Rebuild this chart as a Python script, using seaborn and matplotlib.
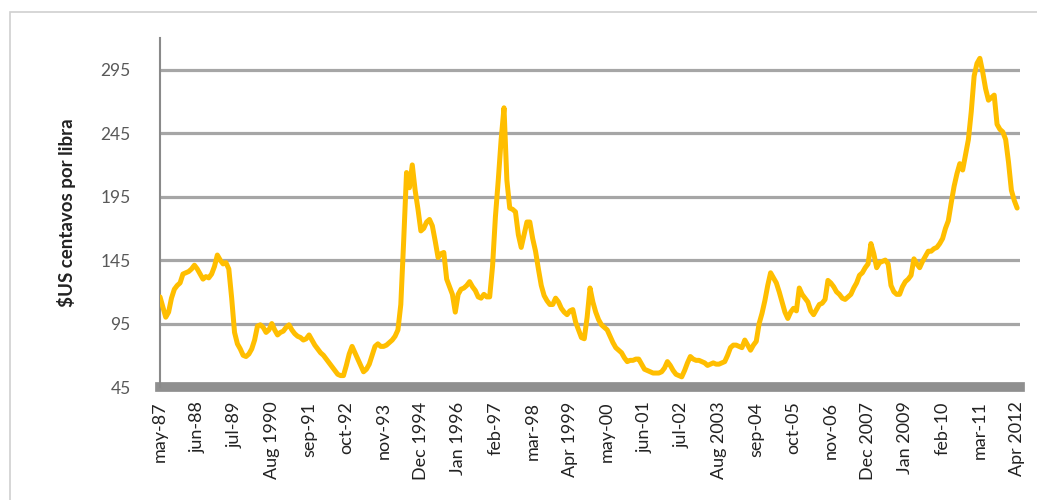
import numpy as np
import pandas as pd
import matplotlib
matplotlib.use("Agg")
import matplotlib.pyplot as plt
import seaborn as sns
from matplotlib.patches import Rectangle

# monthly price, may-87 .. Apr 2012 (US cents per pound)
price = [
    116, 108, 100, 104, 115, 122, 125, 127, 134, 135,
    136, 138, 141, 138, 134, 130, 132, 131, 134, 140,
    149, 145, 142, 143, 138, 115, 88, 79, 75, 70,
    69, 71, 75, 82, 93, 94, 92, 88, 90, 95,
    90, 86, 88, 89, 92, 94, 90, 87, 85, 84,
    82, 83, 86, 82, 78, 75, 72, 70, 67, 64,
    61, 58, 55, 54, 54, 62, 71, 77, 72, 67,
    62, 57, 59, 63, 70, 77, 79, 77, 77, 78,
    80, 82, 85, 90, 110, 160, 214, 202, 220, 200,
    185, 168, 170, 175, 177, 172, 160, 147, 150, 151,
    130, 124, 118, 104, 118, 122, 123, 125, 128, 124,
    121, 116, 115, 118, 116, 116, 140, 179, 208, 240,
    265, 208, 186, 185, 183, 165, 155, 165, 175, 175,
    162, 152, 138, 125, 117, 113, 110, 110, 115, 112,
    107, 104, 102, 105, 106, 96, 90, 84, 83, 100,
    123, 112, 104, 98, 94, 92, 90, 85, 80, 76,
    74, 72, 68, 65, 66, 66, 67, 67, 63, 59,
    58, 57, 56, 56, 56, 57, 60, 65, 62, 58,
    55, 54, 53, 58, 64, 69, 67, 66, 66, 65,
    64, 62, 63, 64, 63, 63, 64, 65, 70, 76,
    78, 78, 77, 76, 82, 78, 74, 78, 81, 95,
    103, 113, 125, 135, 131, 127, 120, 112, 104, 99,
    104, 107, 105, 123, 118, 115, 112, 105, 102, 106,
    110, 111, 114, 129, 127, 124, 120, 118, 115, 114,
    116, 118, 123, 127, 133, 135, 139, 142, 158, 150,
    139, 143, 144, 145, 142, 125, 120, 118, 118, 124,
    128, 130, 133, 146, 142, 139, 144, 148, 152, 152,
    154, 155, 158, 162, 170, 176, 190, 203, 213, 221,
    216, 228, 240, 262, 290, 300, 304, 293, 280, 271,
    273, 275, 252, 248, 246, 240, 222, 200, 192, 186,
]

x_labels = ["may-87", "jun-88", "jul-89", "Aug 1990", "sep-91", "oct-92",
            "nov-93", "Dec 1994", "Jan 1996", "feb-97", "mar-98", "Apr 1999",
            "may-00", "jun-01", "jul-02", "Aug 2003", "sep-04", "oct-05",
            "nov-06", "Dec 2007", "Jan 2009", "feb-10", "mar-11", "Apr 2012"]
y_ticks = [45, 95, 145, 195, 245, 295]

df = pd.DataFrame({"mes": np.arange(len(price)), "precio": price})

sns.set_style("white")
plt.rcParams["font.family"] = ["Lato", "DejaVu Sans"]

fig = plt.figure(figsize=(10.37, 5.0), dpi=100)
ax = fig.add_axes([0.1543, 0.226, 0.8293, 0.698])

# light frame around the chart
fig.patches.append(Rectangle((10 / 1037, -0.2), 1.2, 1.2 - 12 / 500,
                             transform=fig.transFigure, fill=False,
                             edgecolor="#d0d0d0", linewidth=1.2, zorder=0))

for v in y_ticks[1:]:
    ax.axhline(v, color="#a6a6a6", linewidth=2.3, zorder=1)

sns.lineplot(data=df, x="mes", y="precio", color="#FFBE00", linewidth=3.6,
             ax=ax, zorder=3)

ax.set_xlim(0, 300)
ax.set_ylim(45, 320)
ax.set_yticks(y_ticks)
ax.set_xticks(np.arange(0, 300, 13))
ax.set_xticklabels(x_labels, rotation=90, fontsize=13, color="#222222")

for s in ["top", "right"]:
    ax.spines[s].set_visible(False)
ax.spines["left"].set_color("#8a8a8a")
ax.spines["left"].set_linewidth(1.5)
# thick grey band for the category axis
ax.spines["bottom"].set_color("#8f8f8f")
ax.spines["bottom"].set_linewidth(7)
ax.spines["bottom"].set_zorder(2)

ax.tick_params(axis="y", which="major", direction="out", length=6, width=1.2,
               color="#8a8a8a", labelsize=12.5, labelcolor="#595959", pad=15)
ax.tick_params(axis="x", which="major", direction="inout", length=7, width=0.9,
               color="#dcdcdc", pad=7)

ax.set_xlabel("")
ax.set_ylabel("$US centavos por libra", fontsize=13.5, fontweight="bold",
              color="#222222", labelpad=18)

fig.savefig("out.png", dpi=100)
